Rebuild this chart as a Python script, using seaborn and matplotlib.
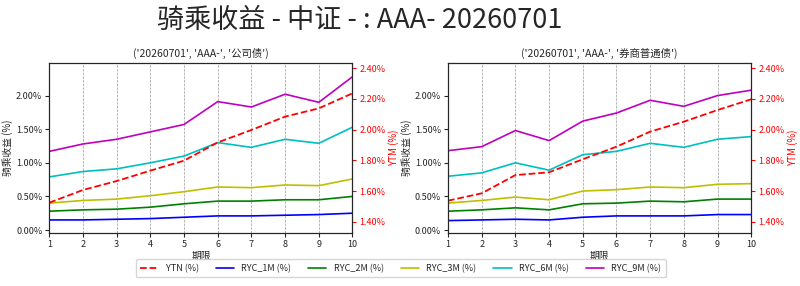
import matplotlib
matplotlib.use("Agg")
import matplotlib.pyplot as plt
import matplotlib.ticker as mtick
import seaborn as sns
import pandas as pd

sns.set_style("white")
plt.rcParams['font.family'] = ['Noto Sans CJK SC', 'DejaVu Sans']
plt.rcParams['axes.unicode_minus'] = False

terms = [1, 2, 3, 4, 5, 6, 7, 8, 9, 10]
titles = ["('20260701', 'AAA-', '公司债')", "('20260701', 'AAA-', '券商普通债')"]

# Left panel: 公司债
ytm_a = [1.524, 1.607, 1.665, 1.733, 1.798, 1.917, 1.998, 2.085, 2.139, 2.237]
ryc1m_a = [0.15, 0.15, 0.16, 0.17, 0.19, 0.21, 0.21, 0.22, 0.23, 0.25]
ryc2m_a = [0.28, 0.30, 0.31, 0.34, 0.39, 0.43, 0.43, 0.45, 0.45, 0.50]
ryc3m_a = [0.40, 0.44, 0.46, 0.51, 0.57, 0.64, 0.63, 0.67, 0.66, 0.76]
ryc6m_a = [0.79, 0.87, 0.91, 1.00, 1.10, 1.30, 1.23, 1.35, 1.29, 1.53]
ryc9m_a = [1.17, 1.28, 1.35, 1.46, 1.57, 1.91, 1.83, 2.02, 1.90, 2.28]

# Right panel: 券商普通债
ytm_b = [1.537, 1.585, 1.704, 1.722, 1.807, 1.889, 1.987, 2.052, 2.128, 2.198]
ryc1m_b = [0.14, 0.15, 0.16, 0.15, 0.19, 0.21, 0.21, 0.21, 0.23, 0.23]
ryc2m_b = [0.28, 0.30, 0.33, 0.30, 0.39, 0.40, 0.43, 0.42, 0.46, 0.46]
ryc3m_b = [0.40, 0.44, 0.49, 0.45, 0.58, 0.60, 0.64, 0.63, 0.68, 0.69]
ryc6m_b = [0.80, 0.85, 1.00, 0.89, 1.12, 1.17, 1.29, 1.23, 1.35, 1.39]
ryc9m_b = [1.18, 1.24, 1.48, 1.33, 1.62, 1.74, 1.93, 1.84, 2.00, 2.08]

ryc_names = ['RYC_1M (%)', 'RYC_2M (%)', 'RYC_3M (%)', 'RYC_6M (%)', 'RYC_9M (%)']
ryc_colors = ['b', 'g', 'y', 'c', 'm']

panels = [
    (ytm_a, [ryc1m_a, ryc2m_a, ryc3m_a, ryc6m_a, ryc9m_a]),
    (ytm_b, [ryc1m_b, ryc2m_b, ryc3m_b, ryc6m_b, ryc9m_b]),
]

fig = plt.figure(figsize=(8, 2.86), dpi=100)
fig.text(0.449, 0.93, '骑乘收益 - 中证 - : AAA- 20260701', fontsize=19.5,
         ha='center', va='center')

lefts = [0.0616, 0.560]
handles = None
for i, (ytm, rycs) in enumerate(panels):
    ax = fig.add_axes([lefts[i], 0.184, 0.379, 0.597])
    ax2 = ax.twinx()
    for name, vals, col in zip(ryc_names, rycs, ryc_colors):
        df = pd.DataFrame({'term': terms, 'val': vals})
        sns.lineplot(data=df, x='term', y='val', ax=ax, color=col, lw=1.2, label=name, legend=False)
    df = pd.DataFrame({'term': terms, 'val': ytm})
    sns.lineplot(data=df, x='term', y='val', ax=ax2, color='r', lw=1.3, ls='--', label='YTN (%)', legend=False)

    ax.set_xlim(1, 10)
    ax.set_xticks(terms)
    ax.set_ylim(-0.05, 2.49)
    ax.set_yticks([0, 0.5, 1.0, 1.5, 2.0])
    ax.yaxis.set_major_formatter(mtick.FuncFormatter(lambda v, p: f'{v:.2f}%'))
    ax2.set_ylim(1.324, 2.437)
    ax2.set_yticks([1.4, 1.6, 1.8, 2.0, 2.2, 2.4])
    ax2.yaxis.set_major_formatter(mtick.FuncFormatter(lambda v, p: f'{v:.2f}%'))
    ax.grid(axis='x', ls='--', color='grey', lw=0.5, alpha=0.8)
    ax.set_xlabel('期限', fontsize=7, labelpad=1)
    ax.set_ylabel('骑乘收益 (%)', fontsize=7, labelpad=2)
    ax2.set_ylabel('YTM (%)', fontsize=7, color='r', labelpad=2)
    ax.tick_params(axis='both', labelsize=6.5, length=3, pad=2, left=True, bottom=True)
    ax2.tick_params(axis='y', labelsize=6.5, colors='r', length=3, pad=2, right=True)
    ax.set_title(titles[i], fontsize=7.5, pad=4)
    for sp in ax.spines.values():
        sp.set_color('black'); sp.set_linewidth(0.8)
    if handles is None:
        h1, l1 = ax.get_legend_handles_labels()
        h2, l2 = ax2.get_legend_handles_labels()
        handles, labels = h2 + h1, l2 + l1

fig.legend(handles, labels, loc='center', bbox_to_anchor=(0.501, 0.062), ncol=6,
           fontsize=6.5, frameon=True, columnspacing=1.9, handlelength=2.0,
           handletextpad=0.8, borderpad=0.5, fancybox=True)
fig.savefig('out.png', dpi=100)
